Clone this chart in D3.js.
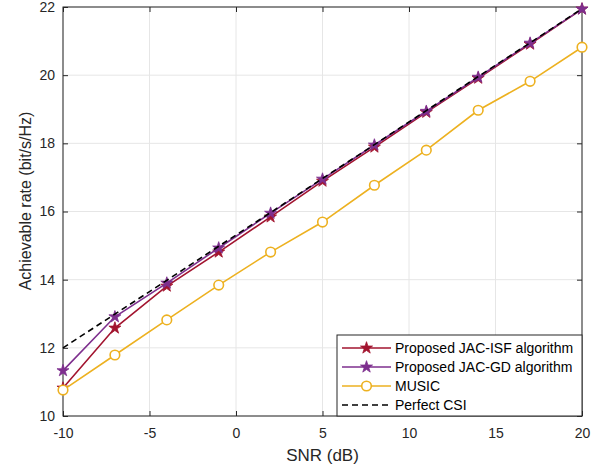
<!DOCTYPE html>
<html>
<head>
<meta charset="utf-8">
<script src="https://cdn.jsdelivr.net/npm/d3@7"></script>
<style>
  body { margin: 0; background: #fff; }
  text { font-family: "Liberation Sans", Arial, sans-serif; }
</style>
</head>
<body>
<div id="chart"></div>
<script>
// data
var snr = [-10, -7, -4, -1, 2, 5, 8, 11, 14, 17, 20];
var jacIsf = [10.82, 12.58, 13.81, 14.81, 15.84, 16.89, 17.89, 18.91, 19.91, 20.91, 21.94];
var jacGd = [11.33, 12.91, 13.90, 14.93, 15.95, 16.95, 17.95, 18.94, 19.94, 20.94, 21.94];
var music = [10.76, 11.79, 12.82, 13.84, 14.81, 15.69, 16.77, 17.80, 18.97, 19.82, 20.82];
var perfect = [12.00, 12.99, 13.98, 14.98, 15.97, 16.97, 17.96, 18.96, 19.96, 20.95, 21.95];
var xTicks = [-10, -5, 0, 5, 10, 15, 20];
var yTicks = [10, 12, 14, 16, 18, 20, 22];

var svgWidth = 605;
var svgHeight = 469;
var margin = { top: 7, right: 23, bottom: 53, left: 63 };
var width = svgWidth - margin.left - margin.right;
var height = svgHeight - margin.top - margin.bottom;

var svg = d3.select("#chart").append("svg")
  .attr("width", svgWidth)
  .attr("height", svgHeight);

var chart = svg.append("g")
  .attr("transform", `translate(${margin.left}, ${margin.top})`);

var x = d3.scaleLinear().domain([-10, 20]).range([0, width]);
var y = d3.scaleLinear().domain([10, 22]).range([height, 0]);

// grid
chart.append("g").selectAll("line").data(xTicks).enter().append("line")
  .attr("x1", d => x(d)).attr("x2", d => x(d))
  .attr("y1", 0).attr("y2", height)
  .attr("stroke", "#e6e6e6");
chart.append("g").selectAll("line").data(yTicks).enter().append("line")
  .attr("y1", d => y(d)).attr("y2", d => y(d))
  .attr("x1", 0).attr("x2", width)
  .attr("stroke", "#e6e6e6");

// axes (ticks inward, matlab style)
var axisColor = "#262626";
var fmt = d => String(d); // plain hyphen minus like the original
function styleAxis(g) {
  g.select(".domain").remove();
  g.selectAll("line").attr("stroke", axisColor);
  g.selectAll("text").attr("fill", axisColor).style("font-size", "14px");
}
chart.append("g").attr("transform", `translate(0, ${height})`)
  .call(d3.axisBottom(x).tickValues(xTicks).tickSize(-5).tickPadding(12).tickFormat(fmt))
  .call(styleAxis);
chart.append("g")
  .call(d3.axisLeft(y).tickValues(yTicks).tickSize(-5).tickPadding(8).tickFormat(fmt))
  .call(styleAxis);
chart.append("g").attr("transform", `translate(${width}, 0)`)
  .call(d3.axisRight(y).tickValues(yTicks).tickSize(-5).tickFormat(""))
  .call(styleAxis);
chart.append("g")
  .call(d3.axisTop(x).tickValues(xTicks).tickSize(-5).tickFormat(""))
  .call(styleAxis);

chart.append("rect")
  .attr("width", width).attr("height", height)
  .attr("fill", "none").attr("stroke", axisColor).attr("stroke-width", 1);

var series = [
  { name: "Proposed JAC-ISF algorithm", values: jacIsf, color: "#A2142F", marker: "star" },
  { name: "Proposed JAC-GD algorithm", values: jacGd, color: "#7E2F8E", marker: "star" },
  { name: "MUSIC", values: music, color: "#EDB120", marker: "circle" },
  { name: "Perfect CSI", values: perfect, color: "#000000", marker: "none", dash: "6,4" }
];

var line = d3.line().x(d => x(d[0])).y(d => y(d[1]));
var star = d3.symbol().type(d3.symbolStar).size(45);

function drawMarker(g, s, cx, cy) {
  if (s.marker === "star") {
    g.append("path").attr("d", star)
      .attr("transform", `translate(${cx},${cy})`)
      .attr("fill", s.color).attr("stroke", s.color).attr("stroke-width", 0.8);
  } else if (s.marker === "circle") {
    g.append("circle").attr("cx", cx).attr("cy", cy).attr("r", 4.8)
      .attr("fill", "#fff").attr("stroke", s.color).attr("stroke-width", 1.6);
  }
}

series.forEach(function(s) {
  var pts = snr.map((v, i) => [v, s.values[i]]);
  chart.append("path").datum(pts)
    .attr("d", line)
    .attr("fill", "none")
    .attr("stroke", s.color)
    .attr("stroke-width", 1.6)
    .attr("stroke-dasharray", s.dash || null);
  var g = chart.append("g");
  pts.forEach(p => drawMarker(g, s, x(p[0]), y(p[1])));
});

// legend
var legW = 245, legH = 81;
var leg = chart.append("g")
  .attr("transform", `translate(${width - legW}, ${height - legH})`);
leg.append("rect").attr("width", legW).attr("height", legH)
  .attr("fill", "#fff").attr("stroke", axisColor).attr("stroke-width", 1);
series.forEach(function(s, i) {
  var ly = 13 + i * 19;
  leg.append("line").attr("x1", 5).attr("x2", 54).attr("y1", ly).attr("y2", ly)
    .attr("stroke", s.color).attr("stroke-width", 1.6)
    .attr("stroke-dasharray", s.dash || null);
  drawMarker(leg, s, 29.5, ly);
  leg.append("text").attr("x", 58).attr("y", ly).attr("dy", "0.35em")
    .style("font-size", "14px").attr("fill", "#000").text(s.name);
});

// axis labels
svg.append("text")
  .attr("x", margin.left + width / 2).attr("y", 461)
  .attr("text-anchor", "middle").style("font-size", "17px").attr("fill", axisColor)
  .text("SNR (dB)");
svg.append("text")
  .attr("transform", `translate(31, 201) rotate(-90)`)
  .attr("text-anchor", "middle").style("font-size", "16px").attr("fill", axisColor)
  .text("Achievable rate (bit/s/Hz)");
</script>
</body>
</html>
